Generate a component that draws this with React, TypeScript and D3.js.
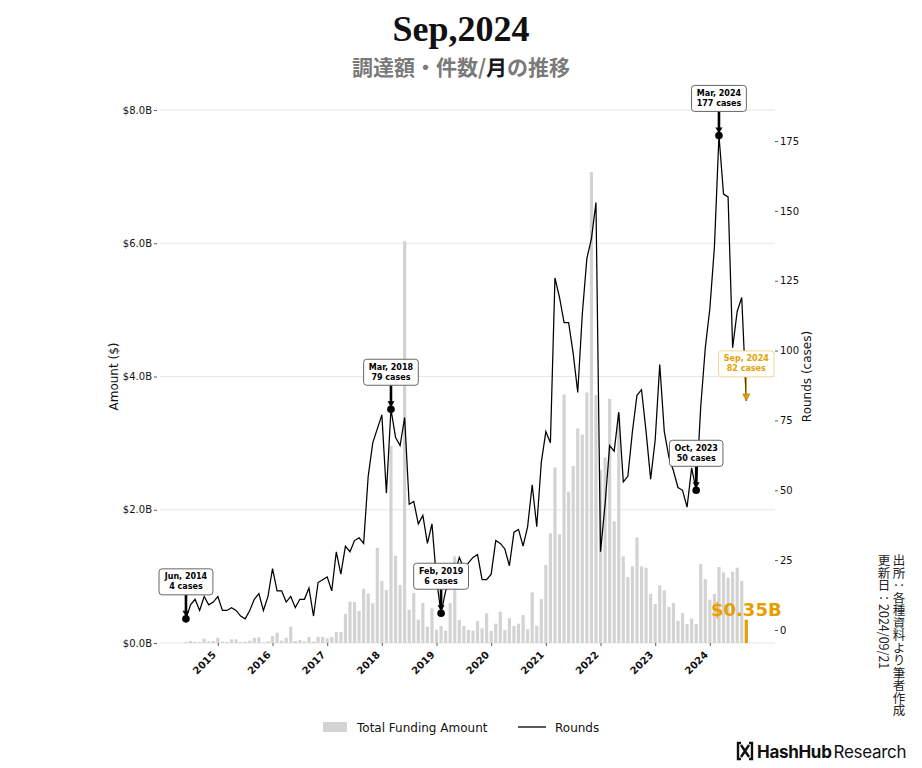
import React, { useRef, useEffect } from "react";
import * as d3 from "d3";

// monthly series, first entry = Jun 2014, last = Sep 2024
const START_YEAR = 2014;
const START_MONTH = 5; // 0-based, June
const MONTH_NAMES = ["Jan", "Feb", "Mar", "Apr", "May", "Jun", "Jul", "Aug", "Sep", "Oct", "Nov", "Dec"];

// total funding amount per month, in $B
const funding = [
  0.015, 0.03, 0.015, 0.015, 0.065, 0.025, 0.03, 0.08, 0.02, 0.015,
  0.055, 0.055, 0.015, 0.02, 0.035, 0.075, 0.085, 0.01, 0.025, 0.105,
  0.155, 0.035, 0.08, 0.245, 0.03, 0.045, 0.025, 0.09, 0.02, 0.095,
  0.09, 0.07, 0.09, 0.165, 0.165, 0.435, 0.62, 0.615, 0.48, 0.815,
  0.745, 0.595, 1.43, 0.93, 0.795, 2.955, 1.31, 0.87, 6.03, 0.5,
  0.75, 0.35, 0.6, 0.245, 0.52, 0.2, 0.255, 0.185, 0.6, 1.3,
  0.345, 0.255, 0.195, 0.185, 0.33, 0.22, 0.445, 0.18, 0.29, 0.47,
  0.195, 0.37, 0.255, 0.29, 0.42, 0.205, 0.76, 0.26, 0.66, 1.17,
  1.645, 2.635, 1.63, 3.73, 2.27, 2.655, 3.22, 3.13, 3.76, 7.07,
  3.72, 2.6, 2.785, 3.665, 1.825, 3.45, 1.3, 0.99, 1.15, 1.585,
  1.15, 1.13, 0.735, 0.585, 0.865, 0.79, 0.54, 0.6, 0.335, 0.45,
  0.285, 0.365, 0.285, 1.185, 0.96, 0.65, 0.735, 1.14, 1.06, 0.98,
  1.07, 1.13, 0.93, 0.35,
];

// number of rounds per month
const rounds = [
  4, 9, 11, 7, 12, 9, 10, 12, 7, 7,
  8, 7, 5, 4, 7, 11, 13, 7, 12, 22,
  14, 14, 10, 12, 8, 11, 11, 15, 5, 17,
  18, 19, 14, 28, 20, 30, 28, 32, 33, 31,
  55, 67, 72, 77, 49, 79, 69, 66, 76, 45,
  46, 38, 41, 31, 38, 18, 6, 14, 17, 20,
  26, 22, 24, 26, 27, 18, 18, 20, 32, 31,
  29, 23, 35, 36, 30, 37, 52, 37, 60, 71,
  67, 126, 119, 110, 110, 99, 85, 113, 133, 140,
  153, 28, 45, 66, 64, 78, 53, 55, 71, 84,
  86, 71, 54, 68, 95, 71, 62, 57, 51, 50,
  44, 58, 50, 80, 101, 115, 137, 177, 156, 155,
  101, 114, 119, 82,
];

const yearTicks = [2015, 2016, 2017, 2018, 2019, 2020, 2021, 2022, 2023, 2024];
const amountTicks = [0, 2, 4, 6, 8];
const roundTicks = [0, 25, 50, 75, 100, 125, 150, 175];
const annotatedMonths = [0, 45, 56, 112, 117, 123];
const sourceNotes = ["出所：各種資料より筆者作成", "更新日：2024/09/21"];

const W = 922;
const H = 768;
const ORANGE = "#E69F00";
const SANS = "DejaVu Sans, sans-serif";
const CJK = "Noto Sans CJK JP, sans-serif";

const monthLabel = (i: number) => {
  const m = START_MONTH + i;
  return `${MONTH_NAMES[m % 12]}, ${START_YEAR + Math.floor(m / 12)}`;
};
const yearIndex = (y: number) => (y - START_YEAR) * 12 - START_MONTH;

const App: React.FC = () => {
  const svgRef = useRef<SVGSVGElement>(null);

  useEffect(() => {
    const svg = d3.select(svgRef.current);
    svg.selectAll("*").remove();

    const plot = { left: 160, right: 775, top: 110, bottom: 643 };
    const last = funding.length - 1;

    const x = d3
      .scaleLinear()
      .domain([-5.7, last + 6.3])
      .range([plot.left, plot.right]);
    const yL = d3.scaleLinear().domain([0, 8]).range([plot.bottom, plot.top]);
    const yR = d3.scaleLinear().domain([-4.65, 186.1]).range([plot.bottom, plot.top]);

    // Title
    svg
      .append("text")
      .attr("x", 461)
      .attr("y", 41)
      .attr("text-anchor", "middle")
      .attr("font-family", "Liberation Serif, serif")
      .attr("font-weight", "bold")
      .attr("font-size", 36)
      .attr("fill", "#111")
      .text("Sep,2024");

    const sub = svg
      .append("text")
      .attr("x", 461)
      .attr("y", 75)
      .attr("text-anchor", "middle")
      .attr("font-family", CJK)
      .attr("font-weight", "bold")
      .attr("font-size", 21)
      .attr("fill", "#7a7a7a");
    sub.append("tspan").text("調達額・件数/");
    sub.append("tspan").attr("fill", "#1a1a1a").text("月");
    sub.append("tspan").text("の推移");

    // Grid lines
    svg
      .append("g")
      .selectAll("line")
      .data(amountTicks)
      .join("line")
      .attr("x1", plot.left)
      .attr("x2", plot.right)
      .attr("y1", (d) => yL(d))
      .attr("y2", (d) => yL(d))
      .attr("stroke", "#e6e6e6")
      .attr("stroke-width", 1);

    // Bars
    const bw = 3.2;
    svg
      .append("g")
      .selectAll("rect")
      .data(funding)
      .join("rect")
      .attr("x", (_, i) => x(i) - bw / 2)
      .attr("y", (d) => yL(d))
      .attr("width", bw)
      .attr("height", (d) => yL(0) - yL(d))
      .attr("fill", (_, i) => (i === last ? ORANGE : "#d3d3d3"));

    // Rounds line
    const line = d3
      .line<number>()
      .x((_, i) => x(i))
      .y((d) => yR(d));
    svg
      .append("path")
      .datum(rounds)
      .attr("d", line)
      .attr("fill", "none")
      .attr("stroke", "#000")
      .attr("stroke-width", 1.25)
      .attr("stroke-linejoin", "miter");

    // Axes
    const styleAxis = (g: any) => {
      g.select(".domain").remove();
      g.selectAll(".tick line").attr("stroke", "#333").attr("stroke-width", 0.8);
      g.selectAll(".tick text")
        .attr("font-family", SANS)
        .attr("font-size", 10)
        .attr("fill", "#111");
    };

    svg
      .append("g")
      .attr("transform", `translate(${plot.left - 3},0)`)
      .call(
        d3
          .axisLeft(yL)
          .tickValues(amountTicks)
          .tickSize(3)
          .tickPadding(2)
          .tickFormat((d) => `$${(+d).toFixed(1)}B`)
      )
      .call(styleAxis);

    svg
      .append("g")
      .attr("transform", `translate(${plot.right},0)`)
      .call(d3.axisRight(yR).tickValues(roundTicks).tickSize(3).tickPadding(2))
      .call(styleAxis);

    const xAxis = svg
      .append("g")
      .attr("transform", `translate(0,${plot.bottom})`)
      .call(
        d3
          .axisBottom(x)
          .tickValues(yearTicks.map(yearIndex))
          .tickSize(3)
          .tickFormat((d) => String(START_YEAR + Math.floor((+d + START_MONTH) / 12)))
      )
      .call(styleAxis);
    xAxis
      .selectAll(".tick text")
      .attr("font-weight", "bold")
      .attr("text-anchor", "end")
      .attr("x", 0)
      .attr("y", 0)
      .attr("dy", "0.75em")
      .attr("transform", "translate(-7,7) rotate(-45)");

    // Axis titles
    svg
      .append("text")
      .attr("transform", `translate(118,${(plot.top + plot.bottom) / 2}) rotate(-90)`)
      .attr("text-anchor", "middle")
      .attr("font-family", SANS)
      .attr("font-size", 12)
      .attr("fill", "#111")
      .text("Amount ($)");
    svg
      .append("text")
      .attr("transform", `translate(810.5,${(plot.top + plot.bottom) / 2}) rotate(-90)`)
      .attr("text-anchor", "middle")
      .attr("font-family", SANS)
      .attr("font-size", 12)
      .attr("fill", "#111")
      .text("Rounds (cases)");

    // Annotations
    annotatedMonths.forEach((idx) => {
      const hl = idx === last;
      const color = hl ? ORANGE : "#000";
      const px = x(idx);
      const py = yR(rounds[idx]);
      const cy = py - 37;
      const g = svg.append("g");

      if (hl) {
        g.append("line")
          .attr("x1", px)
          .attr("x2", px)
          .attr("y1", cy + 13)
          .attr("y2", py - 6)
          .attr("stroke", color)
          .attr("stroke-width", 1.3);
        g.append("path")
          .attr("d", `M${px - 3.5},${py - 7}L${px + 3.5},${py - 7}L${px},${py}Z`)
          .attr("fill", color)
          .attr("stroke", "#9a6a00")
          .attr("stroke-width", 0.5);
      } else {
        g.append("line")
          .attr("x1", px)
          .attr("x2", px)
          .attr("y1", cy + 13)
          .attr("y2", py - 5)
          .attr("stroke", color)
          .attr("stroke-width", 2.6);
        g.append("path")
          .attr("d", `M${px - 3.5},${py - 8}L${px + 3.5},${py - 8}L${px},${py - 2}Z`)
          .attr("fill", color);
        g.append("circle").attr("cx", px).attr("cy", py).attr("r", 3.8).attr("fill", color);
      }

      const box = g.append("rect");
      const t = g
        .append("text")
        .attr("text-anchor", "middle")
        .attr("font-family", SANS)
        .attr("font-weight", "bold")
        .attr("font-size", 8)
        .attr("fill", color);
      t.append("tspan").attr("x", px).attr("y", cy - 2.5).text(monthLabel(idx));
      t.append("tspan").attr("x", px).attr("y", cy + 7.5).text(`${rounds[idx]} cases`);
      const tw = (t.node() as SVGTextElement).getBBox().width;
      box
        .attr("x", px - tw / 2 - 5)
        .attr("y", cy - 13)
        .attr("width", tw + 10)
        .attr("height", 26)
        .attr("rx", 3)
        .attr("fill", "#fff")
        .attr("stroke", hl ? "#f3cf85" : "#555")
        .attr("stroke-width", 0.9);
    });

    // Latest amount label
    svg
      .append("text")
      .attr("x", x(last))
      .attr("y", yL(funding[last]) - 4)
      .attr("text-anchor", "middle")
      .attr("font-family", SANS)
      .attr("font-weight", "bold")
      .attr("font-size", 18)
      .attr("fill", ORANGE)
      .text(`$${funding[last].toFixed(2)}B`);

    // Legend
    const legend = svg.append("g").attr("transform", "translate(323,727)");
    legend
      .append("rect")
      .attr("x", 0)
      .attr("y", -5)
      .attr("width", 24)
      .attr("height", 10)
      .attr("fill", "#d3d3d3");
    legend
      .append("text")
      .attr("x", 34)
      .attr("y", 4.5)
      .attr("font-family", SANS)
      .attr("font-size", 12)
      .attr("fill", "#111")
      .text("Total Funding Amount");
    legend
      .append("line")
      .attr("x1", 195)
      .attr("x2", 223)
      .attr("y1", 0)
      .attr("y2", 0)
      .attr("stroke", "#000")
      .attr("stroke-width", 1.3);
    legend
      .append("text")
      .attr("x", 232)
      .attr("y", 4.5)
      .attr("font-family", SANS)
      .attr("font-size", 12)
      .attr("fill", "#111")
      .text("Rounds");

    // Source notes, vertical writing (right column first)
    sourceNotes.forEach((note, k) => {
      svg
        .append("text")
        .attr("x", 899 - k * 15)
        .attr("y", 554)
        .style("writing-mode", "vertical-rl")
        .style("text-orientation", "mixed")
        .attr("font-family", CJK)
        .attr("font-size", 12.5)
        .attr("fill", "#222")
        .text(note);
    });

    // Logo
    const logo = svg.append("g").attr("transform", "translate(737,742)");
    logo
      .append("path")
      .attr("d", "M4,1H1V17H4M12,1H15V17H12M4,3L12,15M12,3L4,15")
      .attr("fill", "none")
      .attr("stroke", "#111")
      .attr("stroke-width", 2.4);
    const lt = logo
      .append("text")
      .attr("x", 20)
      .attr("y", 16)
      .attr("font-family", "Inter, sans-serif")
      .attr("font-size", 17)
      .attr("fill", "#111")
      .attr("letter-spacing", -0.3);
    lt.append("tspan").attr("font-weight", "bold").text("HashHub");
    lt.append("tspan").attr("font-weight", "normal").attr("dx", 2).text("Research");
  }, []);

  return (
    <div style={{ position: "absolute", left: 0, top: 0, width: W, height: H, background: "#fff" }}>
      <svg ref={svgRef} width={W} height={H} />
    </div>
  );
};

export default App;
